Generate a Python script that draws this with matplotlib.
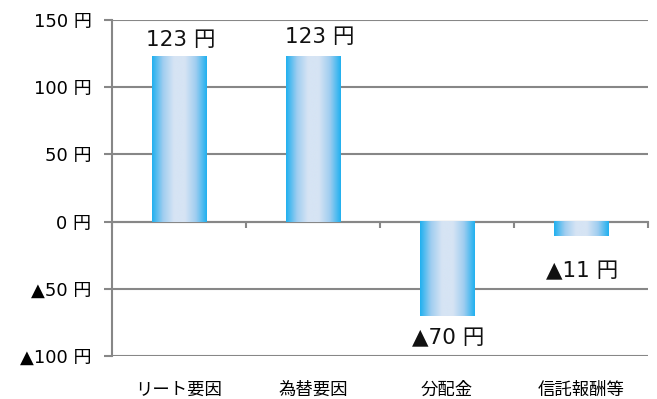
import numpy as np
import matplotlib
matplotlib.use("Agg")
import matplotlib.pyplot as plt
from matplotlib.colors import LinearSegmentedColormap

plt.rcParams['font.family'] = ['DejaVu Sans', 'Noto Sans CJK JP']

# データ
categories = ["リート要因", "為替要因", "分配金", "信託報酬等"]
values = [123, 123, -70, -11]
y_ticks = [-100, -50, 0, 50, 100, 150]

# ラベル位置の微調整 (points)
label_dx = [1, 5, 1, 1]
label_dy = [12, 14, -16, -25]


def yen(v):
    return ("▲" if v < 0 else "") + f"{abs(v)} 円"


grid_col = "#878787"
edge_col = "#1fb0ef"
mid_col = "#d6e4f4"
cmap = LinearSegmentedColormap.from_list(
    "grad", [edge_col, "#9fcdf0", mid_col, mid_col, "#9fcdf0", edge_col])

fig = plt.figure(figsize=(6.57, 3.99), dpi=100)
ax = fig.add_axes([112 / 657, 43 / 399, 536 / 657, 336 / 399])

x = np.arange(len(categories))
bars = ax.bar(x, values, width=0.41, color="none", zorder=3)

grad = np.linspace(0, 1, 256).reshape(1, -1)
for b in bars:
    x0, y0 = b.get_x(), b.get_y()
    x1, y1 = x0 + b.get_width(), y0 + b.get_height()
    ax.imshow(grad, cmap=cmap, aspect="auto", extent=(x0, x1, min(y0, y1), max(y0, y1)),
              zorder=3, interpolation="bilinear")

for i, v in enumerate(values):
    ax.annotate(yen(v), (x[i], v), xytext=(label_dx[i], label_dy[i]),
                textcoords="offset points", ha="center", va="center",
                fontsize=15.5, color="#111111")

ax.set_xlim(-0.5, len(categories) - 0.5)
ax.set_ylim(-100, 150)
ax.set_yticks(y_ticks)
ax.set_yticklabels([yen(v) for v in y_ticks], fontsize=13)
ax.yaxis.grid(True, color=grid_col, linewidth=1.5, zorder=1)
ax.set_axisbelow(True)

for s in ["top", "right", "bottom"]:
    ax.spines[s].set_visible(False)
ax.spines["left"].set_color(grid_col)
ax.spines["left"].set_linewidth(1.5)
ax.tick_params(axis="y", length=5.8, width=1.5, color=grid_col, pad=9)

ax.set_xticks(x)
ax.set_xticklabels(categories, fontsize=12.5)
ax.tick_params(axis="x", length=0, pad=18)

# ゼロ線とカテゴリ境界の目盛
sec = ax.secondary_xaxis(100 / 250)
sec.set_xticks(np.arange(len(categories) + 1) - 0.5)
sec.set_xticklabels([])
sec.spines["bottom"].set_color(grid_col)
sec.spines["bottom"].set_linewidth(1.5)
sec.tick_params(length=4, width=1.5, color=grid_col, direction="out")

fig.savefig("out.png", dpi=100)
